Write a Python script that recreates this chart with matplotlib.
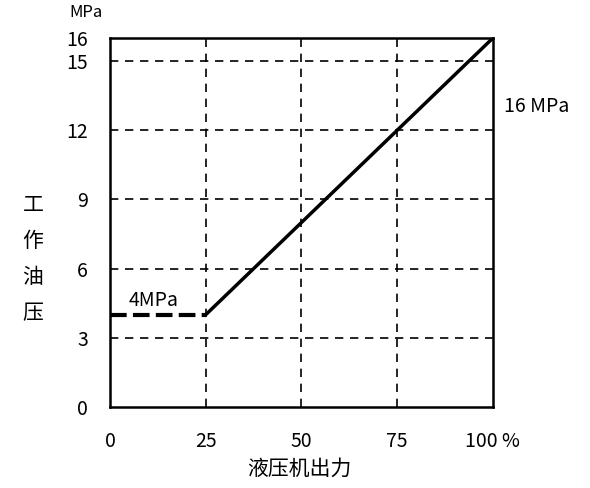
import matplotlib
matplotlib.use('Agg')
import matplotlib.pyplot as plt

plt.rcParams['font.family'] = ['Noto Sans CJK SC', 'DejaVu Sans']

# data
low_x = [0, 25]
low_y = [4, 4]
ramp_x = [25, 100]
ramp_y = [4, 16]
x_ticks = [0, 25, 50, 75, 100]
x_labels = ['0', '25', '50', '75', '100 %']
y_ticks = [0, 3, 6, 9, 12, 15, 16]
y_grid = [3, 6, 9, 12, 15]
x_grid = [25, 50, 75]

fig = plt.figure(figsize=(5.9, 4.88), dpi=100)
ax = fig.add_axes([0.1864, 0.166, 0.649, 0.756])

for g in y_grid:
    ax.axhline(g, color='black', lw=1.2, ls=(0, (5, 4)), zorder=1)
for g in x_grid:
    ax.axvline(g, color='black', lw=1.2, ls=(0, (5, 4)), zorder=1)

ax.plot(low_x, low_y, color='black', lw=3, ls=(0, (4, 1.5)), zorder=3)
ax.plot(ramp_x, ramp_y, color='black', lw=2.5, zorder=3)

ax.set_xlim(0, 100)
ax.set_ylim(0, 16)
ax.set_xticks(x_ticks)
ax.set_xticklabels(x_labels)
ax.set_yticks(y_ticks)
ax.tick_params(length=0, labelsize=14, pad=17)
ax.tick_params(axis='y', pad=16)
for s in ax.spines.values():
    s.set_linewidth(1.8)

ax.text(5, 4.4, '4MPa', fontsize=14)
ax.text(103, 12.8, '16 MPa', fontsize=14)
fig.text(0.145, 0.975, 'MPa', fontsize=12, ha='center', va='center')

for i, ch in enumerate('工作油压'):
    fig.text(0.056, 1 - (205 + i * 36) / 488, ch, fontsize=15, ha='center', va='center')

fig.text(0.508, 0.04, '液压机出力', fontsize=15, ha='center', va='center')

fig.savefig('out.png', dpi=100)
